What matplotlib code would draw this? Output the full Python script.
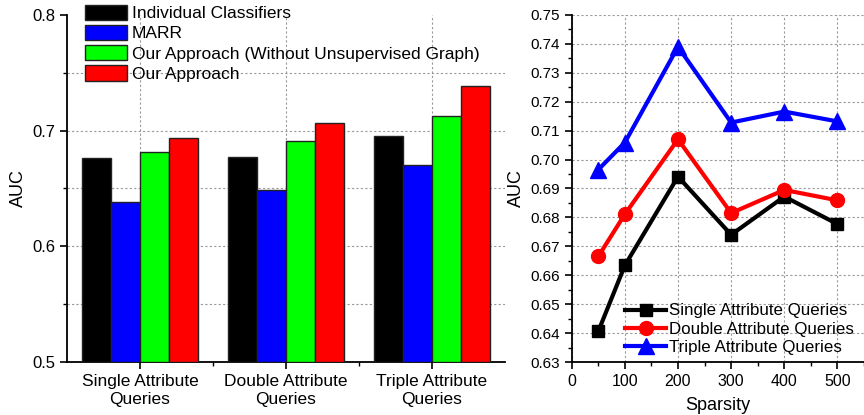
import numpy as np
import matplotlib
matplotlib.use("Agg")
import matplotlib.pyplot as plt
from matplotlib.patches import Patch
from matplotlib.ticker import MultipleLocator

plt.rcParams['font.family'] = ['Liberation Sans', 'DejaVu Sans']

# --- left chart data ---
categorias = ['Single Attribute\nQueries', 'Double Attribute\nQueries', 'Triple Attribute\nQueries']
metodos = ['Individual Classifiers', 'MARR', 'Our Approach (Without Unsupervised Graph)', 'Our Approach']
colores = ['#000000', '#0000ff', '#00ff00', '#ff0000']
auc_individual = [0.6765, 0.677, 0.6955]
auc_marr = [0.638, 0.6483, 0.6705]
auc_sin_grafo = [0.6817, 0.691, 0.7128]
auc_nuestro = [0.694, 0.7067, 0.7387]

# --- right chart data ---
sparsity = [50, 100, 200, 300, 400, 500]
single_q = [0.6406, 0.6634, 0.6941, 0.674, 0.6872, 0.6777]
double_q = [0.6665, 0.6811, 0.707, 0.6815, 0.6895, 0.6859]
triple_q = [0.6965, 0.7059, 0.739, 0.7128, 0.7166, 0.7132]

fig = plt.figure(figsize=(8.64, 4.15), dpi=100)
ax1 = fig.add_axes([0.0775, 0.1277, 0.507, 0.8362])
ax2 = fig.add_axes([0.6617, 0.1277, 0.3383, 0.8362])

grid_kw = dict(color='#999999', linestyle=(0, (2, 2)), linewidth=0.8)

# bar chart
x = np.arange(len(categorias))
ancho = 0.2
series = [auc_individual, auc_marr, auc_sin_grafo, auc_nuestro]
for i, vals in enumerate(series):
    ax1.bar(x + (i - 1.5) * ancho, np.array(vals) - 0.5, ancho, bottom=0.5,
            color=colores[i], edgecolor='#222222', linewidth=1.0, zorder=3)

ax1.set_xlim(-0.5, 2.5)
ax1.set_ylim(0.5, 0.8)
ax1.yaxis.set_minor_locator(MultipleLocator(0.05))
ax1.set_xticks(x)
ax1.set_xticks([0.5, 1.5], minor=True)
ax1.set_xticklabels(categorias, fontsize=12.5, linespacing=1.25)
ax1.set_yticks([0.5, 0.6, 0.7, 0.8])
ax1.set_yticklabels(['0.5', '0.6', '0.7', '0.8'], fontsize=12)
for yv in [0.55, 0.6, 0.65, 0.7, 0.75]:
    ax1.axhline(yv, zorder=1, **grid_kw)
for xv in x:
    ax1.axvline(xv, zorder=1, **grid_kw)
ax1.set_ylabel('AUC', fontsize=13)
ax1.spines['top'].set_visible(False)
ax1.spines['right'].set_visible(False)
for s in ['left', 'bottom']:
    ax1.spines[s].set_linewidth(1.3)
ax1.tick_params(axis='both', which='major', direction='out', length=5, width=1.2)
ax1.tick_params(axis='both', which='minor', direction='out', length=3, width=1.0)
handles = [Patch(facecolor=c, edgecolor='#222222') for c in colores]
ax1.legend(handles, metodos, loc='upper left', bbox_to_anchor=(0.025, 1.05), frameon=False,
           fontsize=12.5, handlelength=2.4, handleheight=1.0, handletextpad=0.3,
           labelspacing=0.2, borderaxespad=0)

# line chart
ax2.plot(sparsity, single_q, '-s', color='black', lw=3, ms=9, label='Single Attribute Queries', zorder=3)
ax2.plot(sparsity, double_q, '-o', color='red', lw=3, ms=10, label='Double Attribute Queries', zorder=3)
ax2.plot(sparsity, triple_q, '-^', color='blue', lw=3, ms=11, label='Triple Attribute Queries', zorder=3)
ax2.set_xlim(0, 550)
ax2.set_ylim(0.63, 0.75)
ax2.xaxis.set_minor_locator(MultipleLocator(50))
ax2.yaxis.set_minor_locator(MultipleLocator(0.005))
ax2.set_yticks(np.arange(0.63, 0.7501, 0.01))
ax2.set_yticklabels(['%.2f' % v for v in np.arange(0.63, 0.7501, 0.01)], fontsize=11)
ax2.set_xticks(np.arange(0, 501, 100))
ax2.set_xticklabels([str(v) for v in range(0, 501, 100)], fontsize=11.5)
ax2.grid(True, which='major', zorder=1, **grid_kw)
ax2.set_axisbelow(True)
ax2.set_xlabel('Sparsity', fontsize=13, labelpad=6)
ax2.set_ylabel('AUC', fontsize=13)
ax2.spines['top'].set_visible(False)
ax2.spines['right'].set_visible(False)
for s in ['left', 'bottom']:
    ax2.spines[s].set_linewidth(1.3)
ax2.tick_params(axis='both', which='major', direction='out', length=5, width=1.2)
ax2.tick_params(axis='both', which='minor', direction='out', length=3, width=1.0)
ax2.legend(loc='lower right', bbox_to_anchor=(0.99, 0.0), frameon=False, fontsize=12.2,
           handlelength=2.4, handletextpad=0.2, labelspacing=0.2, borderaxespad=0)

fig.savefig('out.png', dpi=100)
